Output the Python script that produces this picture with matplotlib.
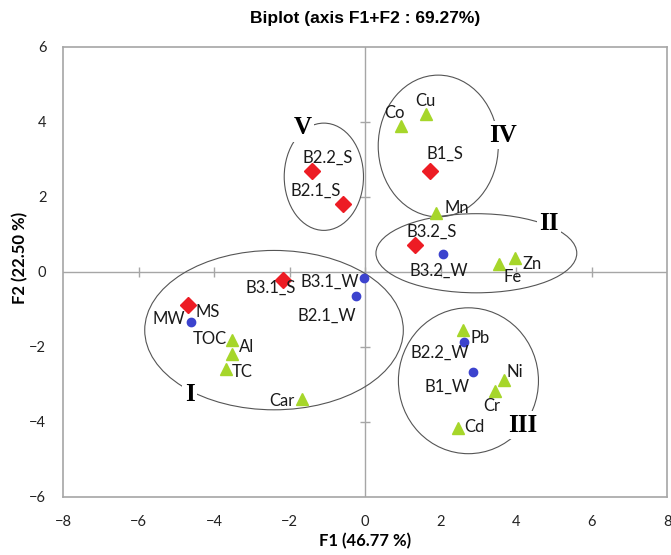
import matplotlib.pyplot as plt
from matplotlib.patches import Ellipse
import numpy as np

# Observations - soil (S) samples
s_names = ['B2.2_S', 'B2.1_S', 'B3.1_S', 'B1_S', 'B3.2_S', 'MS']
s_x = [-1.40, -0.58, -2.17, 1.71, 1.33, -4.68]
s_y = [2.69, 1.80, -0.22, 2.69, 0.73, -0.88]

# Observations - water (W) samples
w_names = ['B3.1_W', 'B2.1_W', 'B3.2_W', 'MW', 'B2.2_W', 'B1_W']
w_x = [-0.02, -0.25, 2.06, -4.62, 2.63, 2.85]
w_y = [-0.16, -0.65, 0.47, -1.34, -1.87, -2.66]

# Variables
v_names = ['Co', 'Cu', 'Mn', 'Fe', 'Zn', 'Pb', 'Ni', 'Cr', 'Cd', 'TOC', 'Al', 'TC', 'Car']
v_x = [0.95, 1.61, 1.89, 3.55, 3.98, 2.59, 3.69, 3.45, 2.47, -3.53, -3.52, -3.67, -1.66]
v_y = [3.89, 4.22, 1.58, 0.22, 0.37, -1.55, -2.89, -3.17, -4.16, -1.82, -2.20, -2.58, -3.40]

# Groups: label, centre x, centre y, width, height, label x, label y
groups = ['I', 'II', 'III', 'IV', 'V']
grp_cx = [-2.41, 2.95, 2.74, 1.94, -1.09]
grp_cy = [-1.55, 0.50, -2.90, 3.36, 2.54]
grp_w = [6.85, 5.32, 3.71, 3.18, 2.10]
grp_h = [4.25, 2.11, 3.89, 3.78, 2.86]
grp_lx = [-4.64, 4.87, 4.18, 3.65, -1.66]
grp_ly = [-3.27, 1.29, -4.09, 3.65, 3.85]

ticks = [-8, -6, -4, -2, 0, 2, 4, 6, 8]
yticks = [-6, -4, -2, 0, 2, 4, 6]

# label offsets in pixels (dx, dy)
offsets = {
    'B2.2_S': (16, 13), 'B2.1_S': (-27, 14), 'B3.1_S': (-12, -8), 'B1_S': (15, 17),
    'B3.2_S': (16, 13), 'MS': (19, -7),
    'B3.1_W': (-34, -4), 'B2.1_W': (-29, -19), 'B3.2_W': (-4, -16), 'MW': (-22, 3),
    'B2.2_W': (-24, -11), 'B1_W': (-26, -15),
    'Co': (-6, 13), 'Cu': (0, 13), 'Mn': (20, 5), 'Fe': (14, -13), 'Zn': (17, -6),
    'Pb': (17, -8), 'Ni': (11, 8), 'Cr': (-3, -15), 'Cd': (16, 1),
    'TOC': (-22, 1), 'Al': (14, 7), 'TC': (16, -3), 'Car': (-20, -2),
}

red = '#ED1C24'
blue = '#3C43CE'
green = '#A6D62A'
gray = '#A6A6A6'
lbl_font = 'Lato'

fig = plt.figure(figsize=(6.71, 5.55), dpi=100)
ax = fig.add_axes([63/671, 1 - 497/555, 604/671, 450/555])

ax.set_xlim(-8, 8)
ax.set_ylim(-6, 6)
for sp in ax.spines.values():
    sp.set_color(gray)
    sp.set_linewidth(1.2)

# centre lines with their own little ticks
ax.axhline(0, color=gray, lw=1, zorder=1)
ax.axvline(0, color=gray, lw=1, zorder=1)
ax.plot(ticks[1:-1], np.zeros(len(ticks) - 2), ls='none', marker='|', ms=7, color=gray, zorder=1)
ax.plot(np.zeros(len(yticks) - 2), yticks[1:-1], ls='none', marker='_', ms=7, color=gray, zorder=1)

ax.set_xticks(ticks)
ax.set_yticks(yticks)
ax.tick_params(length=0, pad=13, labelsize=10.5, labelcolor='#222222')
ax.tick_params(axis='y', pad=12)
for t in ax.get_xticklabels() + ax.get_yticklabels():
    t.set_fontfamily(lbl_font)

# ellipses
for g, cx, cy, w, h, lx, ly in zip(groups, grp_cx, grp_cy, grp_w, grp_h, grp_lx, grp_ly):
    ax.add_patch(Ellipse((cx, cy), w, h, fill=False, ec='#555555', lw=0.8, zorder=2))
    ax.text(lx, ly, g, fontsize=18, fontweight='bold', family='Liberation Serif',
            ha='center', va='center', zorder=3,
            bbox=dict(boxstyle='square,pad=0.1', fc='white', ec='none'))

ax.plot(v_x, v_y, ls='none', marker='^', ms=9, color=green, zorder=4)
ax.plot(w_x, w_y, ls='none', marker='o', ms=6, color=blue, zorder=4)
ax.plot(s_x, s_y, ls='none', marker='D', ms=8, color=red, zorder=4)

for names, xs, ys in [(s_names, s_x, s_y), (w_names, w_x, w_y), (v_names, v_x, v_y)]:
    for n, x, y in zip(names, xs, ys):
        ax.annotate(n, (x, y), xytext=offsets[n], textcoords='offset pixels',
                    ha='center', va='center', fontsize=12, family=lbl_font,
                    color='#1a1a1a', zorder=5)

ax.set_xlabel('F1 (46.77 %)', fontsize=12, fontweight='bold', family=lbl_font, labelpad=3)
ax.set_ylabel('F2 (22.50 %)', fontsize=12, fontweight='bold', family=lbl_font)
ax.yaxis.set_label_coords(-0.058, 0.532)
fig.text(365/671, 1 - 19/555, 'Biplot (axis F1+F2 : 69.27%)', ha='center', va='center',
         fontsize=12.5, fontweight='bold', family='Liberation Sans')

fig.savefig('out.png', dpi=100)
